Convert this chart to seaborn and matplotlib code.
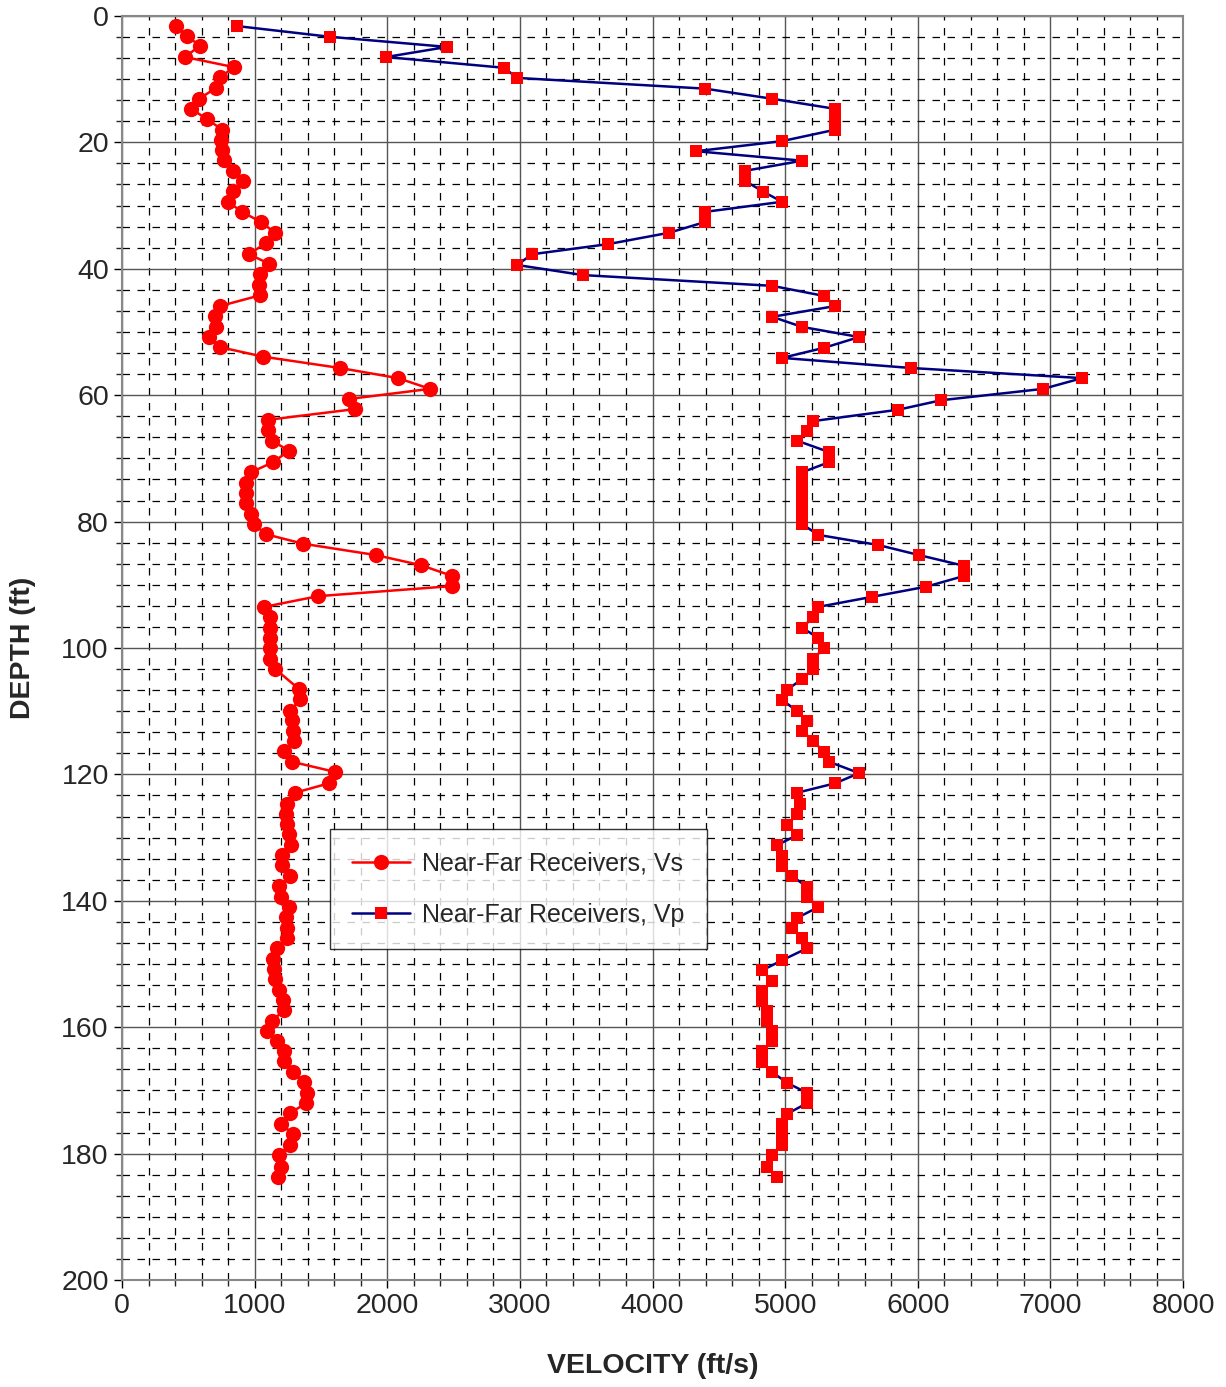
import matplotlib

matplotlib.use("Agg")
import matplotlib.pyplot as plt
import numpy as np
import pandas as pd
import seaborn as sns
from matplotlib.ticker import MultipleLocator

vs_depth = [1.6, 3.2, 4.7, 6.5, 8.1, 9.7, 11.4, 13.1, 14.7, 16.3, 18.0, 19.6, 21.2, 22.8, 24.5,
            26.1, 27.7, 29.4, 31.0, 32.6, 34.3, 35.9, 37.7, 39.2, 40.8, 42.6, 44.2, 45.9, 47.5,
            49.2, 50.8, 52.4, 53.9, 55.7, 57.3, 59.0, 60.6, 62.2, 63.9, 65.5, 67.2, 68.8, 70.6,
            72.2, 73.9, 75.5, 77.1, 78.8, 80.4, 82.0, 83.5, 85.3, 86.9, 88.6, 90.2, 91.8, 93.5,
            95.1, 96.8, 98.4, 100.0, 101.7, 103.3, 106.5, 108.1, 110.0, 111.4, 113.1, 114.7,
            116.3, 118.0, 119.6, 121.4, 122.9, 124.7, 126.3, 127.8, 129.4, 131.2, 132.8, 134.3,
            136.1, 137.7, 139.4, 141.0, 142.6, 144.3, 145.9, 147.5, 149.2, 150.8, 152.4, 154.1,
            155.7, 157.3, 159.0, 160.6, 162.2, 163.8, 165.3, 167.1, 168.7, 170.4, 172.0, 173.6,
            175.3, 176.9, 178.6, 180.2, 182.1, 183.7]
vs_vel = [407, 490, 588, 475, 845, 739, 709, 581, 520, 641, 754, 747, 754, 769, 837,
          912, 837, 799, 905, 1048, 1154, 1086, 958, 1109, 1041, 1033, 1041, 739, 701,
          709, 656, 739, 1063, 1644, 2081, 2323, 1712, 1757, 1101, 1101, 1131, 1259, 1139,
          973, 935, 935, 935, 973, 995, 1086, 1365, 1915, 2255, 2489, 2489, 1478, 1071,
          1116, 1116, 1116, 1116, 1116, 1154, 1335, 1342, 1267, 1282, 1290, 1297,
          1222, 1282, 1606, 1561, 1305, 1244, 1237, 1244, 1259, 1274, 1207, 1207,
          1267, 1184, 1199, 1259, 1237, 1244, 1244, 1169, 1139, 1146, 1154, 1184,
          1214, 1222, 1131, 1093, 1169, 1222, 1222, 1290, 1372, 1395, 1388, 1267,
          1199, 1290, 1267, 1184, 1199, 1176]

vp_depth = [1.6, 3.3, 4.9, 6.5, 8.2, 9.8, 11.5, 13.1, 14.7, 16.3, 18.0,
            19.8, 21.4, 22.9, 24.5, 26.1, 27.8, 29.4, 31.0, 32.6, 34.3, 36.1, 37.7, 39.4, 41.0,
            42.7, 44.3, 45.9, 47.6, 49.2, 50.8, 52.5, 54.1, 55.7, 57.3, 59.0, 60.8, 62.3, 64.1,
            65.7, 67.2, 69.0, 70.6, 72.2, 73.9, 75.5, 77.1, 78.8, 80.4,
            82.1, 83.7, 85.3, 87.0, 88.6, 90.3, 91.9, 93.5, 95.1, 96.8,
            98.4, 100.0, 101.7, 103.3, 104.9, 106.6, 108.2, 110.0, 111.6, 113.1,
            114.7, 116.5, 118.0, 119.8, 121.4, 122.9, 124.7, 126.3, 128.0, 129.6,
            131.2, 132.9, 134.5, 136.1, 137.8, 139.4, 141.0, 142.7, 144.3, 145.9,
            147.5, 149.4, 151.0, 152.7, 154.3, 155.9, 157.4, 159.0, 160.6, 162.2,
            163.8, 165.5, 167.1, 168.8, 170.4, 172.0, 173.7, 175.3, 176.9, 178.6,
            180.2, 182.1, 183.7]
vp_vel = [867, 1569, 2451, 1991, 2881, 2979, 4396, 4902, 5377, 5377, 5377,
          4977, 4329, 5128, 4698, 4698, 4834, 4977, 4396, 4396, 4125, 3665, 3092, 2979, 3476,
          4902, 5294, 5377, 4902, 5128, 5558, 5294, 4977, 5950, 7239, 6945, 6176, 5852, 5211,
          5166, 5090, 5331, 5331, 5128, 5128, 5128, 5128, 5128, 5128,
          5249, 5701, 6010, 6349, 6349, 6063, 5656, 5249, 5211, 5128,
          5249, 5294, 5211, 5211, 5128, 5015, 4977, 5090, 5166, 5128,
          5211, 5294, 5331, 5558, 5377, 5090, 5113, 5090, 5015, 5090,
          4939, 4977, 4977, 5052, 5166, 5166, 5249, 5090, 5052, 5128,
          5166, 4977, 4826, 4902, 4826, 4826, 4864, 4864, 4902, 4902,
          4826, 4826, 4902, 5015, 5166, 5166, 5015, 4977, 4977, 4977,
          4902, 4864, 4939]

vs = pd.DataFrame({"velocity": vs_vel, "depth": vs_depth})
vp = pd.DataFrame({"velocity": vp_vel, "depth": vp_depth})

sns.set_theme(style="white")
plt.rcParams["font.family"] = ["Liberation Sans", "DejaVu Sans"]

fig = plt.figure(figsize=(12.26, 13.87), dpi=100)
ax = fig.add_axes([0.0995, 0.0771, 0.8655, 0.9114])

sns.lineplot(data=vs, x="velocity", y="depth", sort=False, estimator=None, ax=ax,
             color="#ff0000", lw=1.8, marker="o", markersize=11, markeredgewidth=0,
             markerfacecolor="#ff0000", label="Near-Far Receivers, Vs")
sns.lineplot(data=vp, x="velocity", y="depth", sort=False, estimator=None, ax=ax,
             color="#000080", lw=1.8, marker="s", markersize=9, markeredgewidth=0,
             markerfacecolor="#ff0000", label="Near-Far Receivers, Vp")

ax.set_xlim(0, 8000)
ax.set_ylim(200, 0)
ax.xaxis.set_major_locator(MultipleLocator(1000))
ax.xaxis.set_minor_locator(MultipleLocator(200))
ax.yaxis.set_major_locator(MultipleLocator(20))
ax.yaxis.set_minor_locator(MultipleLocator(20 / 6))
ax.grid(which="minor", color="black", linestyle=(0, (6, 6)), lw=0.9)
ax.grid(which="major", color="#555555", linestyle="-", lw=1.0)
ax.set_axisbelow(True)
for s in ax.spines.values():
    s.set_color("#888888")
    s.set_linewidth(1.5)
ax.tick_params(which="major", length=6, width=1, direction="out", labelsize=20.5, color="black")
ax.tick_params(axis="both", which="both", bottom=True, left=True)
ax.set_xlabel("VELOCITY (ft/s)", fontsize=20.5, fontweight="bold", labelpad=24)
ax.set_ylabel("DEPTH (ft)", fontsize=20.5, fontweight="bold", labelpad=18)

leg = ax.legend(loc="upper left", bbox_to_anchor=(0.196, 0.357), fontsize=18,
                frameon=True, fancybox=False, edgecolor="black", borderpad=0.9,
                labelspacing=1.1, handlelength=2.3, handletextpad=0.5, borderaxespad=0)
leg.get_frame().set_linewidth(1.0)

fig.savefig("out.png", dpi=100)
